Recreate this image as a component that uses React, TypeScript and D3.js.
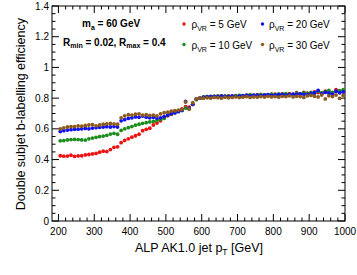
import { useEffect, useRef } from 'react';
import * as d3 from 'd3';

// bin centres of the jet pT histogram [GeV]
const ptBins = [
  205, 215, 225, 235, 245, 255, 265, 275, 285, 295,
  305, 315, 325, 335, 345, 355, 365, 375, 385, 395,
  405, 415, 425, 435, 445, 455, 465, 475, 485, 495,
  505, 515, 525, 535, 545, 555, 565, 575, 585, 595,
  605, 615, 625, 635, 645, 655, 665, 675, 685, 695,
  705, 715, 725, 735, 745, 755, 765, 775, 785, 795,
  805, 815, 825, 835, 845, 855, 865, 875, 885, 895,
  905, 915, 925, 935, 945, 955, 965, 975, 985, 995,
];

const effRho5 = [
  0.425, 0.422, 0.423, 0.428, 0.421, 0.424, 0.425, 0.43, 0.433, 0.437,
  0.44, 0.448, 0.455, 0.452, 0.465, 0.48, 0.483, 0.51, 0.525, 0.535,
  0.546, 0.555, 0.565, 0.588, 0.597, 0.604, 0.625, 0.638, 0.652, 0.675,
  0.685, 0.695, 0.71, 0.718, 0.73, 0.745, 0.742, 0.76, 0.792, 0.8,
  0.806, 0.81, 0.808, 0.812, 0.81, 0.815, 0.81, 0.814, 0.812, 0.815,
  0.817, 0.814, 0.818, 0.82, 0.816, 0.822, 0.818, 0.821, 0.82, 0.824,
  0.826, 0.82, 0.828, 0.824, 0.83, 0.825, 0.835, 0.826, 0.838, 0.832,
  0.828, 0.84, 0.836, 0.83, 0.845, 0.84, 0.832, 0.855, 0.838, 0.845,
];

const effRho10 = [
  0.522, 0.524, 0.528, 0.53, 0.531, 0.53, 0.528, 0.527, 0.535, 0.54,
  0.545, 0.55, 0.553, 0.558, 0.566, 0.57, 0.565, 0.59, 0.6, 0.608,
  0.615, 0.624, 0.63, 0.636, 0.64, 0.645, 0.648, 0.655, 0.662, 0.668,
  0.688, 0.698, 0.705, 0.718, 0.72, 0.735, 0.73, 0.76, 0.79, 0.8,
  0.808, 0.81, 0.812, 0.81, 0.814, 0.812, 0.815, 0.813, 0.812, 0.816,
  0.818, 0.815, 0.82, 0.822, 0.818, 0.82, 0.824, 0.82, 0.823, 0.826,
  0.822, 0.828, 0.825, 0.83, 0.826, 0.822, 0.832, 0.828, 0.835, 0.83,
  0.838, 0.832, 0.845, 0.836, 0.84, 0.85, 0.838, 0.842, 0.848, 0.855,
];

const effRho20 = [
  0.582, 0.588, 0.592, 0.595, 0.597, 0.598, 0.6, 0.603, 0.6, 0.605,
  0.608, 0.61, 0.612, 0.614, 0.612, 0.615, 0.612, 0.652, 0.66, 0.668,
  0.672, 0.678, 0.676, 0.683, 0.676, 0.672, 0.675, 0.67, 0.672, 0.68,
  0.69, 0.7, 0.705, 0.712, 0.72, 0.778, 0.735, 0.76, 0.795, 0.8,
  0.805, 0.808, 0.81, 0.812, 0.81, 0.813, 0.812, 0.81, 0.815, 0.812,
  0.813, 0.816, 0.818, 0.815, 0.82, 0.818, 0.817, 0.82, 0.822, 0.818,
  0.82, 0.822, 0.825, 0.82, 0.823, 0.826, 0.824, 0.828, 0.825, 0.822,
  0.83, 0.835, 0.85, 0.828, 0.838, 0.832, 0.826, 0.845, 0.835, 0.84,
];

const effRho30 = [
  0.6, 0.607, 0.612, 0.615, 0.615, 0.62, 0.617, 0.622, 0.625, 0.628,
  0.62, 0.625, 0.63, 0.632, 0.635, 0.632, 0.63, 0.672, 0.685, 0.692,
  0.69, 0.695, 0.698, 0.69, 0.692, 0.688, 0.69, 0.685, 0.698, 0.705,
  0.708, 0.715, 0.718, 0.722, 0.725, 0.775, 0.73, 0.77, 0.795, 0.8,
  0.8, 0.802, 0.8, 0.805, 0.803, 0.8, 0.806, 0.802, 0.805, 0.808,
  0.804, 0.806, 0.81, 0.805, 0.808, 0.806, 0.81, 0.807, 0.812, 0.808,
  0.81, 0.806, 0.812, 0.81, 0.815, 0.808, 0.812, 0.81, 0.805, 0.815,
  0.818, 0.812, 0.808, 0.82, 0.795, 0.815, 0.81, 0.82, 0.798, 0.818,
];

const seriesLabels = ['5 GeV', '10 GeV', '20 GeV', '30 GeV'];
const seriesColors = ['#ee1111', '#1c8c1c', '#1111ee', '#8c5a1e'];
const seriesValues = [effRho5, effRho10, effRho20, effRho30];

const xTicks = [200, 300, 400, 500, 600, 700, 800, 900, 1000];
const yTicks = [0, 0.2, 0.4, 0.6, 0.8, 1, 1.2, 1.4];

export default function App() {
  const svgRef = useRef<SVGSVGElement | null>(null);

  useEffect(() => {
    document.body.style.margin = '0';

    const width = 357;
    const height = 275;
    const margin = { top: 6, right: 12, bottom: 54, left: 52 };
    const innerW = width - margin.left - margin.right;
    const innerH = height - margin.top - margin.bottom;
    const font = 'Liberation Sans, Arial, Helvetica, sans-serif';
    const markerR = 1.9;

    const svg = d3.select(svgRef.current);
    svg.selectAll('*').remove();
    svg.attr('width', width).attr('height', height).style('display', 'block');

    svg.append('rect').attr('width', width).attr('height', height).attr('fill', '#fff');

    const g = svg.append('g').attr('transform', `translate(${margin.left},${margin.top})`);

    const x = d3.scaleLinear().domain([182, 1000]).range([0, innerW]);
    const y = d3.scaleLinear().domain([0, 1.4]).range([innerH, 0]);

    const xMinor = d3.range(200, 1001, 20);
    const yMinor = d3.range(0, 1.401, 0.05);

    // ticks on all four sides, ROOT style
    const tickG = g.append('g').attr('stroke', '#000').attr('stroke-width', 1);
    xMinor.forEach((v) => {
      const major = xTicks.includes(v);
      const len = major ? 7 : 3.5;
      tickG.append('line').attr('x1', x(v)).attr('x2', x(v)).attr('y1', innerH).attr('y2', innerH - len);
      tickG.append('line').attr('x1', x(v)).attr('x2', x(v)).attr('y1', 0).attr('y2', len);
    });
    yMinor.forEach((v, i) => {
      const major = i % 4 === 0;
      const len = major ? 7 : 3.5;
      tickG.append('line').attr('x1', 0).attr('x2', len).attr('y1', y(v)).attr('y2', y(v));
      tickG.append('line').attr('x1', innerW).attr('x2', innerW - len).attr('y1', y(v)).attr('y2', y(v));
    });

    // frame
    g.append('rect')
      .attr('width', innerW)
      .attr('height', innerH)
      .attr('fill', 'none')
      .attr('stroke', '#000')
      .attr('stroke-width', 1);

    // tick labels
    g.selectAll('.xl')
      .data(xTicks)
      .enter()
      .append('text')
      .attr('x', (d) => x(d))
      .attr('y', innerH + 14)
      .attr('text-anchor', 'middle')
      .style('font-family', font)
      .style('font-size', '10px')
      .text((d) => d);

    g.selectAll('.yl')
      .data(yTicks)
      .enter()
      .append('text')
      .attr('x', -3)
      .attr('y', (d) => y(d) + 3.5)
      .attr('text-anchor', 'end')
      .style('font-family', font)
      .style('font-size', '10px')
      .text((d) => (d === 0 ? '0' : String(d)));

    // axis titles
    const xt = svg
      .append('text')
      .attr('x', 263)
      .attr('y', 252)
      .attr('text-anchor', 'end')
      .style('font-family', font)
      .style('font-size', '12.5px');
    xt.append('tspan').text('ALP AK1.0 jet p');
    xt.append('tspan').attr('dy', 3).style('font-size', '8.5px').text('T');
    xt.append('tspan').attr('dy', -3).text(' [GeV]');

    svg
      .append('text')
      .attr('transform', 'translate(25,18) rotate(-90)')
      .attr('text-anchor', 'end')
      .style('font-family', font)
      .style('font-size', '12.5px')
      .text('Double subjet b-labelling efficiency');

    // data points
    seriesValues.forEach((vals, si) => {
      g.append('g')
        .selectAll('circle')
        .data(vals)
        .enter()
        .append('circle')
        .attr('cx', (_d, i) => x(ptBins[i]))
        .attr('cy', (d) => y(d))
        .attr('r', markerR)
        .attr('fill', seriesColors[si]);
    });

    // annotation text
    const ma = svg
      .append('text')
      .attr('x', 82)
      .attr('y', 27)
      .style('font-family', font)
      .style('font-size', '10px')
      .style('font-weight', 'bold');
    ma.append('tspan').text('m');
    ma.append('tspan').attr('dy', 2.5).style('font-size', '7px').text('a');
    ma.append('tspan').attr('dy', -2.5).text(' = 60 GeV');

    const rr = svg
      .append('text')
      .attr('x', 63)
      .attr('y', 45.5)
      .style('font-family', font)
      .style('font-size', '10px')
      .style('font-weight', 'bold');
    rr.append('tspan').text('R');
    rr.append('tspan').attr('dy', 2.5).style('font-size', '7px').text('min');
    rr.append('tspan').attr('dy', -2.5).text(' = 0.02, R');
    rr.append('tspan').attr('dy', 2.5).style('font-size', '7px').text('max');
    rr.append('tspan').attr('dy', -2.5).text(' = 0.4');

    // legend
    const legendPos = [
      { mx: 184, tx: 191.5, y: 24 },
      { mx: 184, tx: 191.5, y: 44.5 },
      { mx: 262.5, tx: 269, y: 24 },
      { mx: 262.5, tx: 269, y: 44.5 },
    ];
    seriesLabels.forEach((lab, i) => {
      const p = legendPos[i];
      svg.append('circle').attr('cx', p.mx).attr('cy', p.y).attr('r', 1.7).attr('fill', seriesColors[i]);
      const t = svg
        .append('text')
        .attr('x', p.tx)
        .attr('y', p.y + 4)
        .style('font-family', font)
        .style('font-size', '10px');
      t.append('tspan').text('\u03c1');
      t.append('tspan').attr('dy', 3).style('font-size', '7px').text('VR');
      t.append('tspan').attr('dy', -3).text(' = ' + lab);
    });
  }, []);

  return <svg ref={svgRef}></svg>;
}
